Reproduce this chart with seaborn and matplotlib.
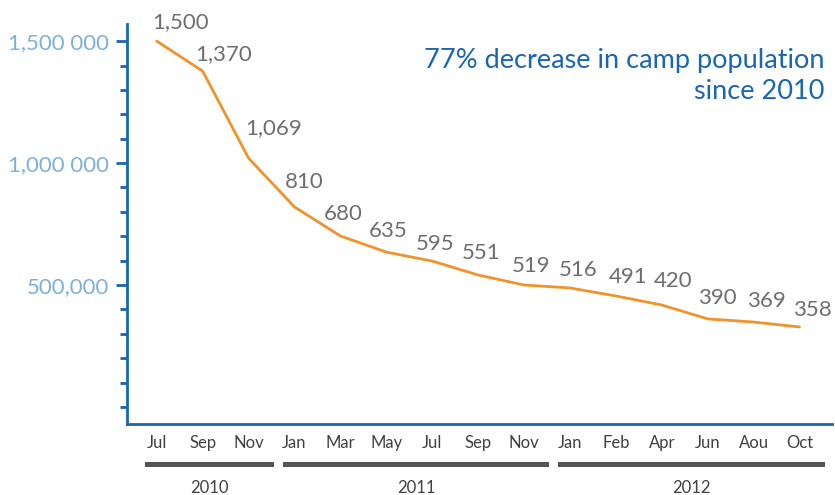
import matplotlib
matplotlib.use("Agg")
import matplotlib.pyplot as plt
import matplotlib.transforms as mtransforms
from matplotlib.ticker import MultipleLocator
import numpy as np
import pandas as pd
import seaborn as sns

# data
months = ["Jul", "Sep", "Nov", "Jan", "Mar", "May", "Jul", "Sep", "Nov",
          "Jan", "Feb", "Apr", "Jun", "Aou", "Oct"]
years = ["2010"] * 3 + ["2011"] * 6 + ["2012"] * 6
population = [1500000, 1377000, 1020000, 820000, 701000, 635000, 598000, 541000,
              500000, 488000, 455000, 418000, 361000, 348000, 328000]
point_labels = ["1,500", "1,370", "1,069", "810", "680", "635", "595", "551",
                "519", "516", "491", "420", "390", "369", "358"]
ytick_values = [500000, 1000000, 1500000]
ytick_labels = ["500,000", "1,000 000", "1,500 000"]
note = "77% decrease in camp population\nsince 2010"

# label offsets in points (layout, not data)
label_offsets = [(17, 14), (15, 12), (18, 22), (7, 18), (2, 16), (1, 15), (2, 12),
                 (2, 16), (5, 14), (6, 13), (9, 14), (8, 17), (7, 15), (9, 15), (9, 12)]

df = pd.DataFrame({"pos": np.arange(len(months)), "month": months,
                   "year": years, "population": population})

sns.set_style("white")
plt.rcParams["font.family"] = ["Lato", "DejaVu Sans"]

blue = "#1a66b0"
fig = plt.figure(figsize=(8.35, 4.95), dpi=100)
ax = fig.add_axes([0.152, 0.1434, 0.844, 0.808])

sns.lineplot(data=df, x="pos", y="population", ax=ax, color="#f0932a", linewidth=2)

for i, row in df.iterrows():
    ax.annotate(point_labels[i], (row["pos"], row["population"]),
                xytext=label_offsets[i], textcoords="offset points",
                ha="center", va="center", fontsize=16, color="#6e6e6e")

ax.set_xlim(-0.65, 14.7)
ax.set_ylim(-70000, 1570000)
ax.set_xticks(df["pos"])
ax.set_xticklabels(months, fontsize=12, color="#404040")
ax.set_yticks(ytick_values)
ax.set_yticklabels(ytick_labels, fontsize=16, color="#7eb0d8")
ax.yaxis.set_minor_locator(MultipleLocator(100000))
ax.tick_params(axis="y", which="major", length=8, width=2, color=blue, pad=5, left=True)
ax.tick_params(axis="y", which="minor", length=5, width=2, color=blue, left=True)
ax.tick_params(axis="x", length=0, pad=8)
ax.set_xlabel("")
ax.set_ylabel("")

for side in ["top", "right"]:
    ax.spines[side].set_visible(False)
for side in ["left", "bottom"]:
    ax.spines[side].set_color(blue)
    ax.spines[side].set_linewidth(2)

# year bands under the month labels
trans = mtransforms.blended_transform_factory(ax.transData, ax.transAxes)
for yr, grp in df.groupby("year"):
    x0 = grp["pos"].min() - 0.25
    x1 = grp["pos"].max() + 0.55
    ax.add_patch(plt.Rectangle((x0, -0.1075), x1 - x0, 0.0125, transform=trans,
                               color="#555555", clip_on=False, lw=0))
    ax.text((x0 + x1) / 2, -0.16, yr, transform=trans, ha="center", va="center",
            fontsize=12, color="#404040")

ax.text(0.99, 0.87, note, transform=ax.transAxes, ha="right", va="center",
        fontsize=19.5, color="#1a66b0", linespacing=1.3)

fig.savefig("out.png", dpi=100)
